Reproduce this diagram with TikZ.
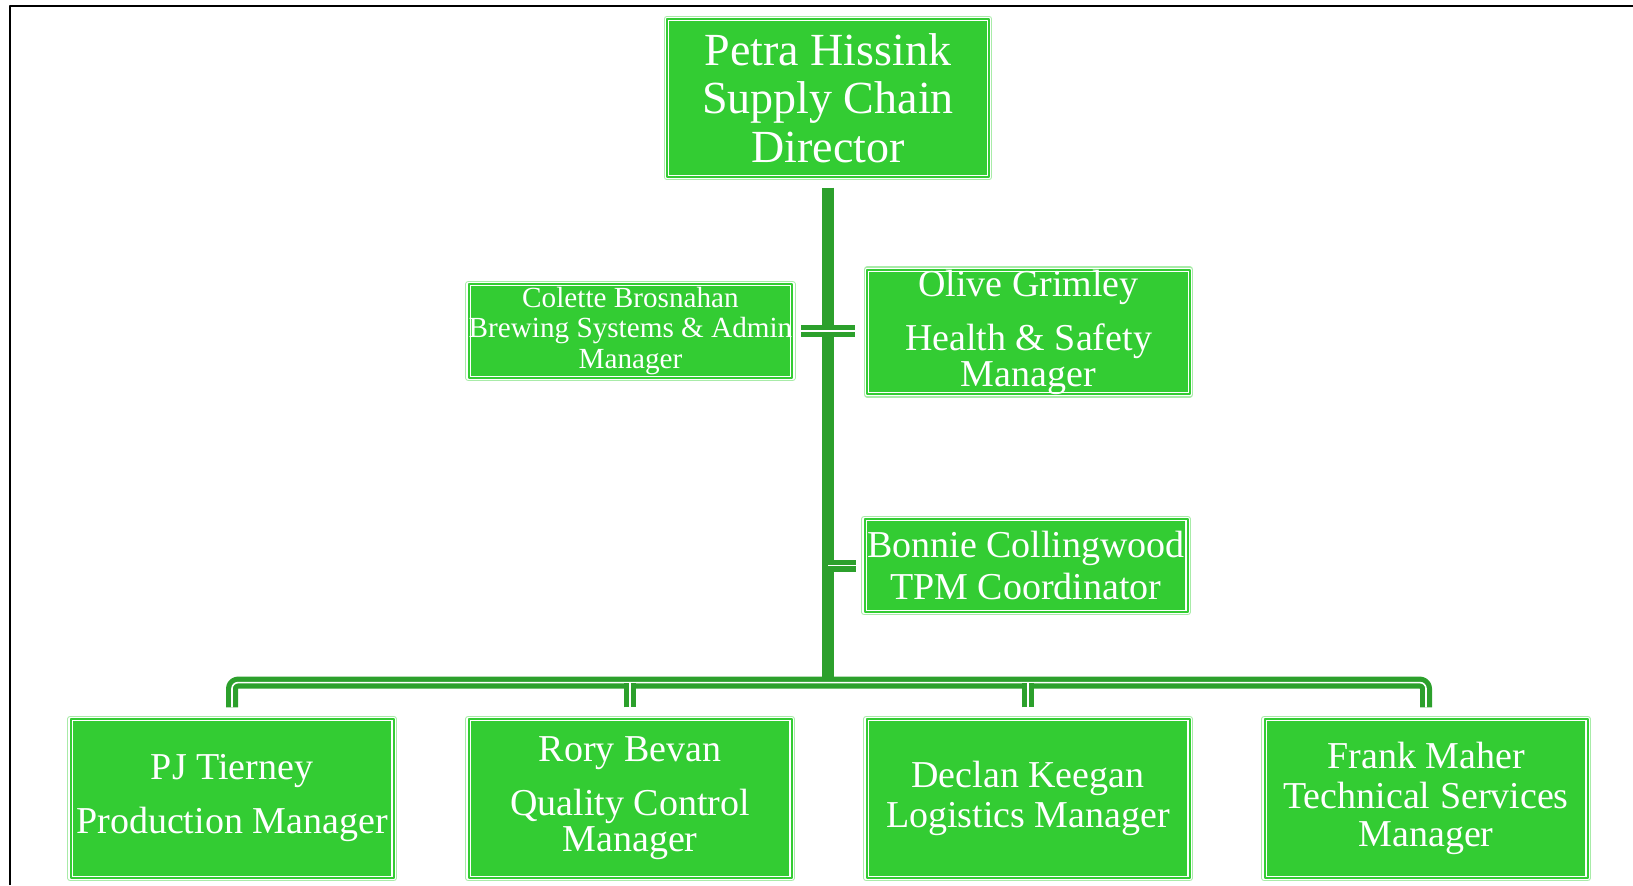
\documentclass[tikz,border=0pt]{standalone}
\usepackage{fontspec}
\setmainfont{Liberation Serif}
\definecolor{boxgreen}{HTML}{33CC33}
\definecolor{linkgreen}{HTML}{2CA02C}
\definecolor{halogreen}{HTML}{A8EBA8}

\begin{document}
\begin{tikzpicture}[node distance=199pt,line join=round]
  \tikzstyle{post}=[rectangle,fill=boxgreen,draw=white,double=boxgreen,double distance=1pt,
              line width=0.6pt,preaction={draw=halogreen,line width=3.4pt},text=white,
              inner sep=0pt,align=center,minimum width=161.5pt,minimum height=79.5pt,
              font=\fontsize{19}{20}\selectfont]
  \tikzstyle{trunk}=[draw=linkgreen,line width=6pt]
  \tikzstyle{wire}=[draw=linkgreen,double=white,double distance=0.8pt,line width=2.6pt]
    \useasboundingbox (0,0) rectangle (816.5pt,-442.5pt);
    \draw[line width=1pt] (5pt,-442.5pt) -- (5pt,-3pt) -- (816.5pt,-3pt);
    \node [post,minimum width=161pt,minimum height=79pt,font=\fontsize{23}{24.25}\selectfont] (chief) at (414pt,-49pt) {Petra Hissink\\Supply Chain\\Director};
    \node [post,minimum height=47pt,font=\fontsize{14.6}{15.1}\selectfont] (colette) at (315.25pt,-165.5pt) {Colette Brosnahan\\Brewing Systems \& Admin\\Manager};
    \node [post,minimum height=61pt] (olive) at (514.25pt,-166pt) {Olive Grimley\\[7pt]Health \& Safety\\[-2pt]Manager};
    \node [post,minimum height=46.5pt] (bonnie) at (513pt,-282.75pt) {Bonnie Collingwood\\[1pt]TPM Coordinator};
    \node [post] (pj) at (116pt,-399.25pt) {PJ Tierney\\[7pt]Production Manager};
    \node [post] (rory) [right of=pj] {Rory Bevan\\[7pt]Quality Control\\[-2pt]Manager};
    \node [post] (declan) [right of=rory] {Declan Keegan\\Logistics Manager};
    \node [post] (frank) [right of=declan] {Frank Maher\\Technical Services\\[-1pt]Manager};
    \path (chief.south) ++(0,-252.5pt) coordinate (hub);
    \draw[trunk] ([yshift=-5pt]chief.south) -- (hub);
    \draw[wire,rounded corners=3pt] ([yshift=5.5pt]pj.north) |- (hub) -| ([yshift=5.5pt]frank.north);
    \foreach \n in {rory,declan}
      \draw[wire] ([yshift=5.5pt]\n.north) -- (\n.north |- hub);
    \draw[wire] ([xshift=4pt]colette.east) -- ([xshift=-5.5pt]olive.west |- colette.east);
    \draw[wire] (hub |- bonnie.west) -- ([xshift=-4pt]bonnie.west);
\end{tikzpicture}
\end{document}
